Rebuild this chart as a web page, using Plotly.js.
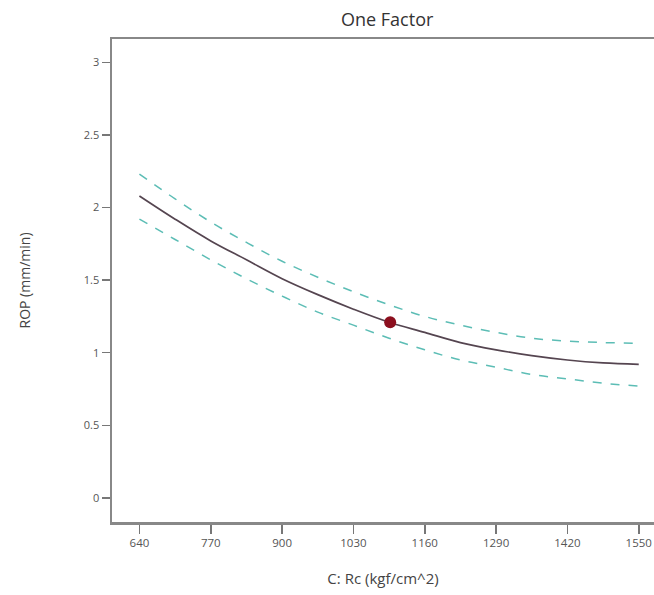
<!DOCTYPE html>
<html>
<head>
<meta charset="utf-8">
<script src="https://cdn.plot.ly/plotly-3.0.1.min.js"></script>
<style>
html, body { margin: 0; padding: 0; overflow: hidden; background: #fff; }
#chart { width: 654px; height: 595px; }
</style>
</head>
<body>
<div id="chart"></div>
<script>
// Data
const rc = [640, 705, 770, 835, 900, 965, 1030, 1095, 1160, 1225, 1290, 1355, 1420, 1485, 1550];
const ropPred = [2.08, 1.92, 1.77, 1.64, 1.51, 1.40, 1.30, 1.21, 1.14, 1.07, 1.02, 0.98, 0.95, 0.93, 0.92];
const ropUpper = [2.23, 2.06, 1.90, 1.76, 1.63, 1.52, 1.42, 1.33, 1.25, 1.19, 1.14, 1.10, 1.08, 1.07, 1.065];
const ropLower = [1.92, 1.78, 1.64, 1.51, 1.39, 1.28, 1.19, 1.10, 1.02, 0.95, 0.90, 0.85, 0.82, 0.79, 0.77];
const designX = [1097];
const designY = [1.21];
const xTicks = [640, 770, 900, 1030, 1160, 1290, 1420, 1550];
const yTicks = [0, 0.5, 1, 1.5, 2, 2.5, 3];
const yTickText = ['0', '0.5', '1', '1.5', '2', '2.5', '3'];

const font = '"Open Sans", "Noto Sans", sans-serif';

const traces = [
  { x: rc, y: ropUpper, mode: 'lines', line: { color: '#5cbdb5', width: 1.5, dash: 'dash', shape: 'spline' }, hoverinfo: 'skip' },
  { x: rc, y: ropLower, mode: 'lines', line: { color: '#5cbdb5', width: 1.5, dash: 'dash', shape: 'spline' }, hoverinfo: 'skip' },
  { x: rc, y: ropPred, mode: 'lines', line: { color: '#554550', width: 1.7, shape: 'spline' } },
  { x: designX, y: designY, mode: 'markers', marker: { color: '#8c0f1e', size: 12 } }
];

const layout = {
  width: 654, height: 595,
  margin: { l: 112, r: 0, t: 39, b: 73 },
  paper_bgcolor: '#fff', plot_bgcolor: '#fff',
  showlegend: false,
  font: { family: font, color: '#444' },
  title: { text: 'One Factor', font: { family: font, size: 18, color: '#333' }, x: 0.592, xref: 'container', xanchor: 'center', y: 0.978, yref: 'container', yanchor: 'top' },
  xaxis: {
    range: [590, 1577.8],
    tickvals: xTicks, ticktext: xTicks.map(String),
    ticks: 'outside', ticklen: 9, tickwidth: 1.5, tickcolor: '#777',
    showline: true, linecolor: '#888', linewidth: 2.5, mirror: true,
    showgrid: false, zeroline: false,
    tickfont: { size: 11.5, color: '#555' },
    title: { text: 'C: Rc (kgf/cm^2)', font: { size: 15, color: '#444' }, standoff: 24 }
  },
  yaxis: {
    range: [-0.166, 3.161],
    tickvals: yTicks, ticktext: yTickText,
    ticks: 'outside', ticklen: 8, tickwidth: 1.5, tickcolor: '#777',
    showline: true, linecolor: '#888', linewidth: 2.5, mirror: false,
    showgrid: false, zeroline: false,
    tickfont: { size: 11, color: '#555' },
    title: { text: 'ROP (mm/min)', font: { size: 14, color: '#444' }, standoff: 50 }
  }
};

Plotly.newPlot('chart', traces, layout, { displayModeBar: false, staticPlot: true });
</script>
</body>
</html>
